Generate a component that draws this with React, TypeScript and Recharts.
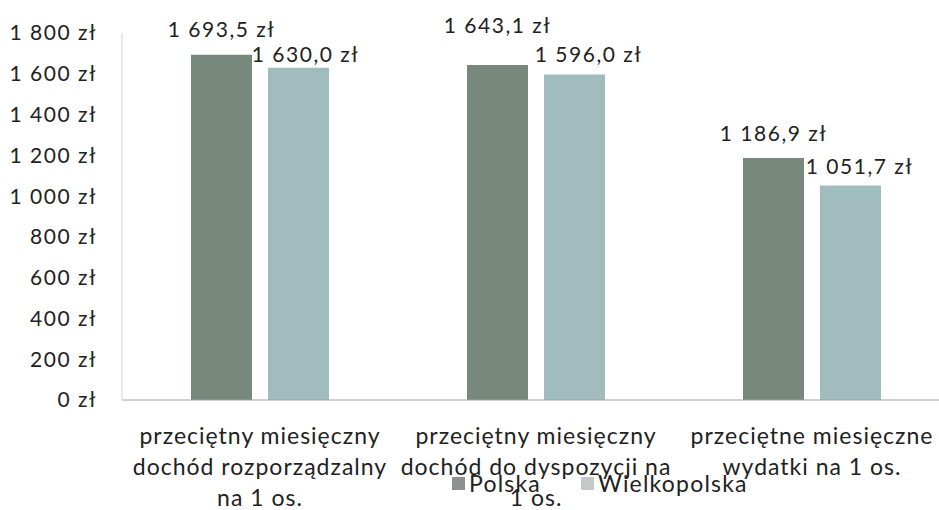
import React from "react";
import { BarChart, Bar, XAxis, YAxis, Legend, LabelList } from "recharts";

const categories = [
  "przeciętny miesięczny\ndochód rozporządzalny\nna 1 os.",
  "przeciętny miesięczny\ndochód do dyspozycji na\n1 os.",
  "przeciętne miesięczne\nwydatki na 1 os.",
];
const polska = [1693.5, 1643.1, 1186.9];
const wielkopolska = [1630.0, 1596.0, 1051.7];
const seriesNames = ["Polska", "Wielkopolska"];
const yTicks = [0, 200, 400, 600, 800, 1000, 1200, 1400, 1600, 1800];

// label placement tweaks (px, relative to the bar top / centre)
const polskaLift = [18, 32, 17];
const polskaShift = [0, 0, 0];
const wlkpLift = [6, 13, 12];
const wlkpShift = [7, 14, 9];

const barColors = ["#76897c", "#a1bcbc"];
const legendColors = ["#8e918f", "#c4c8c6"];
const FONT = "Lato, 'Open Sans', sans-serif";

const data = categories.map((name, i) => ({
  name,
  polska: polska[i],
  wielkopolska: wielkopolska[i],
}));

const groupThousands = (s: string) => s.replace(/\B(?=(\d{3})+(?!\d))/g, " ");
const fmtTick = (v: number) => `${groupThousands(String(v))} zł`;
const fmtVal = (v: number) => {
  const [a, b] = v.toFixed(1).split(".");
  return `${groupThousands(a)},${b} zł`;
};

const makeLabel = (lift: number[], shift: number[]) => (props: any) => {
  const { x, y, width, value, index } = props;
  return (
    <text
      x={Number(x) + Number(width) / 2 + shift[index]}
      y={Number(y) - lift[index]}
      textAnchor="middle"
      fontFamily={FONT}
      fontSize={21}
      letterSpacing={1.5}
      fill="#222"
    >
      {fmtVal(Number(value))}
    </text>
  );
};

const CategoryTick = (props: any) => {
  const { x, y, payload } = props;
  const lines = String(payload.value).split("\n");
  return (
    <text
      x={x}
      y={y}
      textAnchor="middle"
      fontFamily={FONT}
      fontSize={23}
      letterSpacing={1}
      fill="#222"
    >
      {lines.map((l, i) => (
        <tspan key={i} x={x} dy={i === 0 ? 44 : 31}>
          {l}
        </tspan>
      ))}
    </text>
  );
};

const renderLegend = (props: any) => {
  const { payload } = props;
  return (
    <div style={{ display: "flex", alignItems: "center", fontFamily: FONT, fontSize: 23, letterSpacing: 1.2, color: "#222", lineHeight: "26px" }}>
      {payload.map((p: any, i: number) => (
        <div key={i} style={{ display: "flex", alignItems: "center", marginRight: i === 0 ? 40 : 0 }}>
          <span style={{ display: "inline-block", width: 13, height: 13, background: legendColors[i], marginRight: 4 }} />
          <span>{p.value}</span>
        </div>
      ))}
    </div>
  );
};

export default function App() {
  return (
    <div style={{ position: "absolute", left: 0, top: 0, width: 939, height: 510, overflow: "hidden", background: "#fff" }}>
      <BarChart
        width={950}
        height={510}
        data={data}
        margin={{ top: 33, right: 0, left: 0, bottom: 0 }}
        barCategoryGap="25%"
        barGap={16}
      >
        <XAxis
          dataKey="name"
          interval={0}
          height={110}
          tickLine={false}
          tickSize={0}
          tickMargin={0}
          axisLine={{ stroke: "#a0a0a0" }}
          tick={<CategoryTick />}
        />
        <YAxis
          domain={[0, 1800]}
          ticks={yTicks}
          width={122}
          tickLine={false}
          tickSize={0}
          tickMargin={25}
          axisLine={{ stroke: "#d4d4d4" }}
          tickFormatter={fmtTick}
          tick={{ fontFamily: FONT, fontSize: 21, fill: "#222", letterSpacing: 1.5 }}
        />
        <Legend
          layout="horizontal"
          verticalAlign="middle"
          align="center"
          wrapperStyle={{ top: 470, left: 452, width: "auto", height: "auto" }}
          content={renderLegend}
        />
        <Bar dataKey="polska" name={seriesNames[0]} fill={barColors[0]} isAnimationActive={false}>
          <LabelList dataKey="polska" content={makeLabel(polskaLift, polskaShift)} />
        </Bar>
        <Bar dataKey="wielkopolska" name={seriesNames[1]} fill={barColors[1]} isAnimationActive={false}>
          <LabelList dataKey="wielkopolska" content={makeLabel(wlkpLift, wlkpShift)} />
        </Bar>
      </BarChart>
    </div>
  );
}
